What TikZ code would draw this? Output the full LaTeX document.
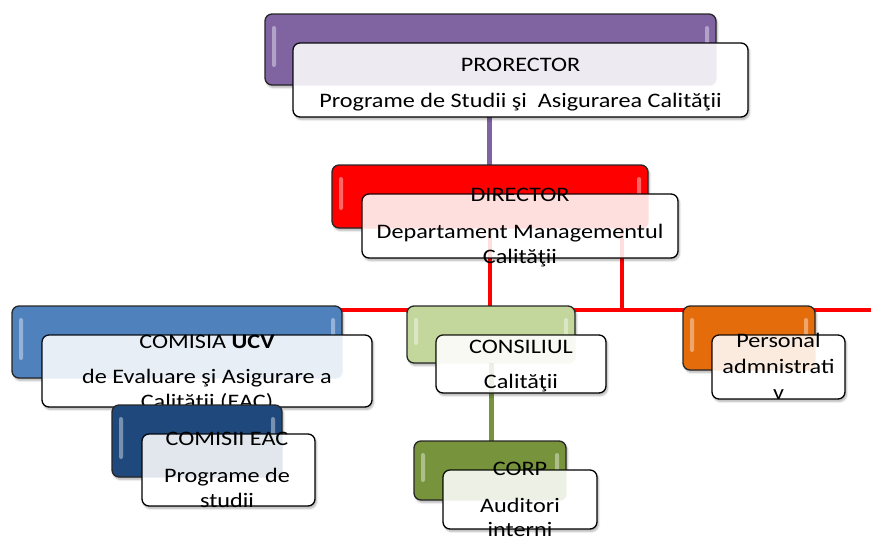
\documentclass[tikz,border=0pt]{standalone}
\usepackage{fontspec}
\setmainfont{Carlito}[FakeStretch=1.175]
\usetikzlibrary{shadows.blur,calc}
\definecolor{cPur}{HTML}{8064A2}
\definecolor{cRed}{HTML}{FF0000}
\definecolor{cBlue}{HTML}{4F81BD}
\definecolor{cLGreen}{HTML}{C3D69B}
\definecolor{cNavy}{HTML}{1F497D}
\definecolor{cOlive}{HTML}{77933C}
\definecolor{cOrange}{HTML}{E46C0A}
\tikzset{
  boxshadow/.style={blur shadow={shadow xshift=1.5pt, shadow yshift=-2.5pt, shadow blur steps=6, shadow opacity=30}},
  backbox/.style={draw=black!85, line width=1.3pt, rounded corners=7pt, fill=#1, boxshadow, inner sep=0pt,
    path picture={
      \fill[white, opacity=0.4, rounded corners=2pt]
        ([xshift=7pt,yshift=-12pt]path picture bounding box.north west) rectangle
        ([xshift=11pt,yshift=18pt]path picture bounding box.south west);
      \fill[white, opacity=0.4, rounded corners=2pt]
        ([xshift=-11pt,yshift=-12pt]path picture bounding box.north east) rectangle
        ([xshift=-7pt,yshift=18pt]path picture bounding box.south east);
    }},
  frontbox/.style={draw=black, line width=1.3pt, rounded corners=7pt, fill=white, boxshadow, inner sep=0pt},
  tint/.style={opacity=0.13},
  txt/.style={anchor=base, font=\fontsize{20.6}{25}\selectfont, inner sep=0pt, text=black},
  conn/.style={line width=#1, line cap=butt}
}
\newcommand\tintfront[3]{%
  \begin{scope}
    \clip[rounded corners=7pt] (#1.north west) rectangle (#1.south east);
    \fill[#3, tint, rounded corners=7pt] (#2.north west) rectangle (#2.south east);
  \end{scope}}
\begin{document}
\begin{tikzpicture}[x=1pt,y=-1pt]
\useasboundingbox (0,0) rectangle (871,538);
\clip (0,0) rectangle (871,538);

% connectors
\coordinate (busR) at (871,310);
\coordinate (busL) at (177,310);
\coordinate (dx1) at (490,228);
\coordinate (dx1b) at (490,310);
\coordinate (dx2) at (622,228);
\coordinate (pconn) at (489,85);
\coordinate (dconn) at (489,165);
\coordinate (cconn) at (491,363);
\coordinate (rconn) at (491,441);
\draw[conn=5pt, draw=cPur] (pconn) -- (dconn);
\draw[conn=4pt, draw=cRed] (dx1) -- (dx1b);
\draw[conn=4pt, draw=cRed] (dx2) -- (dx2 |- busR);
\draw[conn=4pt, draw=cRed] (busL) -- (busR);
\draw[conn=5pt, draw=cOlive] (cconn) -- (rconn);

% PRORECTOR
\node[backbox=cPur, minimum width=451pt, minimum height=71pt] (pback) at (490.5,49.5) {};
\node[frontbox, minimum width=455pt, minimum height=74pt] (pfront) at (520.5,80) {};
\tintfront{pfront}{pback}{cPur}
\node[txt] (pt1) at (520.5,71.5) {PRORECTOR};
\node[txt] (pt2) at (520.5,107) {Programe de Studii şi\ \ Asigurarea Calităţii};

% DIRECTOR
\node[backbox=cRed, minimum width=316pt, minimum height=63pt] (dback) at (490,196.5) {};
\node[frontbox, minimum width=316pt, minimum height=64pt] (dfront) at (520,226) {};
\tintfront{dfront}{dback}{cRed}
\begin{scope}
  \clip[rounded corners=7pt] (dfront.north west) rectangle (dfront.south east);
  \draw[conn=4pt, draw=cRed, tint] (dx1) -- (dx1b);
  \draw[conn=4pt, draw=cRed, tint] (dx2) -- (dx2 |- busR);
\end{scope}
\node[txt] (dt1) at (520,201.5) {DIRECTOR};
\node[txt] (dt2) at (520,238) {Departament Managementul};
\node[txt] (dt3) at (520,263) {Calităţii};

% COMISIA UCV
\node[backbox=cBlue, minimum width=330pt, minimum height=72pt] (uback) at (177,342) {};
\node[frontbox, minimum width=330pt, minimum height=72pt] (ufront) at (207,371) {};
\tintfront{ufront}{uback}{cBlue}
\node[txt] (ut1) at (207,348) {COMISIA \textbf{UCV}};
\node[txt] (ut2) at (207,383) {de Evaluare şi Asigurare a};
\node[txt] (ut3) at (207,408) {Calităţii (EAC)};

% COMISII EAC
\node[backbox=cNavy, minimum width=170pt, minimum height=72pt] (eback) at (197,441) {};
\node[frontbox, minimum width=173pt, minimum height=72pt] (efront) at (228.5,470) {};
\tintfront{efront}{eback}{cNavy}
\node[txt] (et1) at (227,445) {COMISII EAC};
\node[txt] (et2) at (227,482) {Programe de};
\node[txt] (et3) at (227,507) {studii};

% CONSILIUL
\node[backbox=cLGreen, minimum width=168pt, minimum height=57pt] (cback) at (491,334.5) {};
\node[frontbox, minimum width=170pt, minimum height=58pt] (cfront) at (521,364) {};
\tintfront{cfront}{cback}{cLGreen}
\begin{scope}
  \clip[rounded corners=7pt] (cfront.north west) rectangle (cfront.south east);
  \draw[conn=5pt, draw=cOlive, tint] (cconn) -- (rconn);
\end{scope}
\node[txt] (ct1) at (521,353) {CONSILIUL};
\node[txt] (ct2) at (521,388) {Calităţii};

% CORP
\node[backbox=cOlive, minimum width=152pt, minimum height=59pt] (rback) at (490,470.5) {};
\node[frontbox, minimum width=154pt, minimum height=59pt] (rfront) at (520,499.5) {};
\tintfront{rfront}{rback}{cOlive}
\node[txt] (rt1) at (520,475) {CORP};
\node[txt] (rt2) at (520,512) {Auditori};
\node[txt] (rt3) at (520,536) {interni};

% Personal
\node[backbox=cOrange, minimum width=132pt, minimum height=64pt] (oback) at (749,338) {};
\node[frontbox, minimum width=133pt, minimum height=64pt] (ofront) at (778.5,367) {};
\tintfront{ofront}{oback}{cOrange}
\node[txt] (ot1) at (778.5,347) {Personal};
\node[txt] (ot2) at (778.5,373) {admnistrati};
\node[txt] (ot3) at (778.5,399) {v};
\end{tikzpicture}
\end{document}
